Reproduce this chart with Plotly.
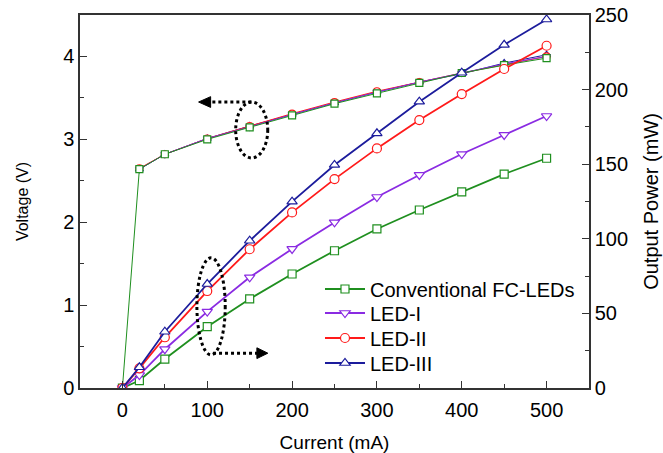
import plotly.graph_objects as go

current = [0, 20, 50, 100, 150, 200, 250, 300, 350, 400, 450, 500]
current_v = [20, 50, 100, 150, 200, 250, 300, 350, 400, 450, 500]

volt_conv = [0, 2.64, 2.82, 3.00, 3.145, 3.29, 3.43, 3.555, 3.68, 3.80, 3.895, 3.98]
volt_led1 = [2.64, 2.82, 3.01, 3.15, 3.30, 3.44, 3.57, 3.69, 3.80, 3.91, 4.00]
volt_led2 = [2.65, 2.82, 3.01, 3.16, 3.31, 3.45, 3.58, 3.69, 3.80, 3.90, 4.00]
volt_led3 = [2.64, 2.82, 3.01, 3.16, 3.30, 3.44, 3.57, 3.69, 3.79, 3.92, 4.02]

pow_conv = [0, 5, 19.4, 41.1, 59.7, 76.4, 92, 106.6, 119.3, 131.5, 143.4, 154]
pow_led1 = [0, 8.7, 26, 51.2, 74.2, 93.2, 111, 128, 142.8, 156.8, 169.6, 182.3]
pow_led2 = [0, 13.2, 34, 65, 93, 117.7, 140, 160.6, 179.6, 197, 213.8, 229.4]
pow_led3 = [0, 13.9, 37.7, 69.7, 98.7, 124.9, 149.5, 170.7, 191.9, 211.3, 230, 247]

names = ["Conventional FC-LEDs", "LED-I", "LED-II", "LED-III"]
colors = ["#1f8f1f", "#8a2be2", "#ff1a1a", "#1c1c9c"]
symbols = ["square", "triangle-down", "circle", "triangle-up"]

FONT = "Liberation Sans, Arial, sans-serif"

fig = go.Figure()

# Voltage curves (left axis), drawn so the conventional one ends on top
volt_sets = [
    (3, current_v, volt_led3),
    (2, current_v, volt_led2),
    (1, current_v, volt_led1),
    (0, current, volt_conv),
]
for i, xs, ys in volt_sets:
    fig.add_trace(go.Scatter(
        x=xs, y=ys, mode="lines+markers", yaxis="y", showlegend=False,
        line=dict(color=colors[i], width=1),
        marker=dict(symbol=symbols[i], size=7,
                    color="white", line=dict(color=colors[i], width=1.2)),
    ))

# Output power curves (right axis), one legend box per entry
pow_sets = [pow_conv, pow_led1, pow_led2, pow_led3]
msizes = [8, 9, 9, 9]
legend_ids = ["legend", "legend2", "legend3", "legend4"]
for i, ys in enumerate(pow_sets):
    fig.add_trace(go.Scatter(
        x=current, y=ys, mode="lines+markers", yaxis="y2", name=names[i],
        legend=legend_ids[i],
        line=dict(color=colors[i], width=1.8),
        marker=dict(symbol=symbols[i], size=msizes[i],
                    color="white", line=dict(color=colors[i], width=1.2)),
    ))

# Dotted ellipses and arrows
shapes = []
shapes.append(dict(type="circle", xref="x", yref="y", x0=133.5, x1=171.3, y0=2.775, y1=3.45,
                   line=dict(color="black", width=3, dash="dot")))
shapes.append(dict(type="line", xref="x", yref="y", x0=152, x1=103, y0=3.45, y1=3.45,
                   line=dict(color="black", width=3, dash="dot")))
shapes.append(dict(type="path", xref="x", yref="y",
                   path="M 89.8 3.45 L 104 3.515 L 104 3.385 Z",
                   fillcolor="black", line=dict(color="black", width=1)))
shapes.append(dict(type="circle", xref="x", yref="y", x0=87.8, x1=121.2, y0=0.40, y1=1.57,
                   line=dict(color="black", width=3, dash="dot")))
shapes.append(dict(type="line", xref="x", yref="y", x0=106.8, x1=159, y0=0.42, y1=0.42,
                   line=dict(color="black", width=3, dash="dot")))
shapes.append(dict(type="path", xref="x", yref="y",
                   path="M 171.4 0.42 L 158.5 0.485 L 158.5 0.355 Z",
                   fillcolor="black", line=dict(color="black", width=1)))

axis_common = dict(
    showline=True, linecolor="#333333", linewidth=1.5,
    ticks="inside", ticklen=7, tickwidth=1.3, tickcolor="#333333",
    showgrid=False, zeroline=False, automargin=False,
    ticklabeloverflow="allow",
    tickfont=dict(family=FONT, size=20, color="black"),
)

legend_rows_px = [289, 313, 338, 363]
plot_top, plot_bottom = 15, 388
legends = {}
for lid, ypx in zip(legend_ids, legend_rows_px):
    legends[lid] = dict(
        x=0.4715, y=(plot_bottom - ypx) / (plot_bottom - plot_top),
        xanchor="left", yanchor="middle",
        bgcolor="rgba(0,0,0,0)", borderwidth=0,
        font=dict(family=FONT, size=20, color="black"),
        itemwidth=40,
    )

fig.update_layout(
    width=663, height=453,
    margin=dict(l=80, r=74, t=15, b=65),
    paper_bgcolor="white", plot_bgcolor="white",
    font=dict(family=FONT, color="black"),
    shapes=shapes,
    xaxis=dict(
        range=[-50, 550], tick0=0, dtick=100, mirror=True, ticklabelstandoff=3,
        minor=dict(dtick=50, ticks="inside", ticklen=4, tickwidth=1.3, tickcolor="#333333"),
        title=dict(text="Current (mA)", font=dict(family=FONT, size=19, color="black"), standoff=16),
        **axis_common,
    ),
    yaxis=dict(
        range=[0, 4.5], tick0=0, dtick=1,
        minor=dict(dtick=0.5, ticks="inside", ticklen=4, tickwidth=1.3, tickcolor="#333333"),
        title=dict(text="Voltage (V)", font=dict(family=FONT, size=16, color="black"), standoff=31),
        **axis_common,
    ),
    yaxis2=dict(
        range=[0, 250], tick0=0, dtick=50, overlaying="y", side="right",
        minor=dict(dtick=25, ticks="inside", ticklen=4, tickwidth=1.3, tickcolor="#333333"),
        title=dict(text="Output Power (mW)", font=dict(family=FONT, size=20, color="black"), standoff=17),
        **axis_common,
    ),
    **legends,
)

# remove the default page margin so the 663x453 figure fills the window exactly
fig.write_html(
    "out.html",
    config={"displayModeBar": False},
    post_script="document.body.style.margin='0';document.body.style.overflow='hidden';",
)
